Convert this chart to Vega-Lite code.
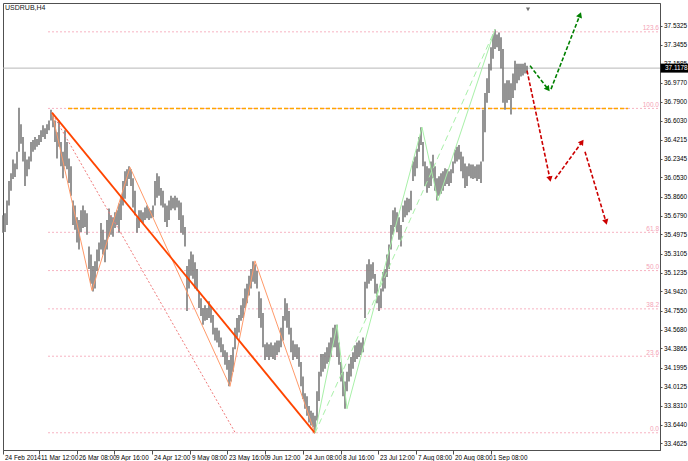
{
  "$schema": "https://vega.github.io/schema/vega-lite/v6.json",
  "width": 657,
  "height": 447,
  "autosize": {"type": "none"},
  "padding": {"left": 3, "top": 3, "right": 28, "bottom": 11},
  "background": "white",
  "title": {"text": "USDRUB,H4", "anchor": "start", "frame": "group", "offset": -8, "dx": 2, "fontSize": 7, "fontWeight": "normal", "font": "Liberation Sans, sans-serif", "color": "#202020"},
  "config": {
    "view": {"stroke": "#505050", "strokeWidth": 1},
    "axis": {"grid": false, "title": null, "labelFont": "Liberation Sans, sans-serif", "labelFontSize": 6.4, "labelColor": "#000000", "domainColor": "#505050", "tickColor": "#505050", "labelOverlap": false, "labelFlush": false, "labelBound": false}
  },
  "datasets": {
    "bars": [
      {"b":0,"h":35.684,"l":35.513},{"b":2,"h":35.703,"l":35.522},{"b":4,"h":35.827,"l":35.589},{"b":6,"h":36.018,"l":35.78},{"b":8,"h":36.094,"l":35.922},{"b":10,"h":36.227,"l":36.037},{"b":12,"h":36.189,"l":36.056},{"b":14,"h":36.303,"l":36.132},{"b":16,"h":36.732,"l":36.303},{"b":18,"h":36.57,"l":36.38},
      {"b":20,"h":36.446,"l":36.208},{"b":22,"h":36.303,"l":35.97},{"b":24,"h":36.227,"l":36.065},{"b":26,"h":36.256,"l":36.132},{"b":28,"h":36.399,"l":36.208},{"b":30,"h":36.418,"l":36.303},{"b":32,"h":36.446,"l":36.322},{"b":34,"h":36.427,"l":36.351},{"b":36,"h":36.465,"l":36.37},{"b":38,"h":36.513,"l":36.399},
      {"b":40,"h":36.561,"l":36.446},{"b":42,"h":36.532,"l":36.427},{"b":44,"h":36.57,"l":36.475},{"b":46,"h":36.608,"l":36.513},{"b":48,"h":36.713,"l":36.608},{"b":50,"h":36.665,"l":36.542},{"b":52,"h":36.608,"l":36.399},{"b":54,"h":36.494,"l":36.237},{"b":56,"h":36.608,"l":36.351},{"b":58,"h":36.399,"l":36.161},
      {"b":60,"h":36.303,"l":36.046},{"b":62,"h":36.513,"l":36.161},{"b":64,"h":36.399,"l":36.132},{"b":66,"h":36.237,"l":35.999},{"b":68,"h":36.161,"l":35.875},{"b":70,"h":35.827,"l":35.589},{"b":72,"h":35.78,"l":35.542},{"b":74,"h":35.665,"l":35.418},{"b":76,"h":35.637,"l":35.351},{"b":78,"h":35.732,"l":35.522},
      {"b":80,"h":35.78,"l":35.561},{"b":82,"h":35.732,"l":35.57},{"b":84,"h":35.703,"l":35.494},{"b":86,"h":35.38,"l":35.161},{"b":88,"h":35.303,"l":35.018},{"b":90,"h":35.189,"l":34.942},{"b":92,"h":35.237,"l":34.97},{"b":94,"h":35.351,"l":35.142},{"b":96,"h":35.418,"l":35.237},{"b":98,"h":35.608,"l":35.351},
      {"b":100,"h":35.542,"l":35.303},{"b":102,"h":35.446,"l":35.227},{"b":104,"h":35.637,"l":35.351},{"b":106,"h":35.751,"l":35.475},{"b":108,"h":35.684,"l":35.494},{"b":110,"h":35.665,"l":35.475},{"b":112,"h":35.713,"l":35.561},{"b":114,"h":35.732,"l":35.589},{"b":116,"h":35.799,"l":35.513},{"b":118,"h":35.875,"l":35.637},
      {"b":120,"h":36.018,"l":35.78},{"b":122,"h":36.113,"l":35.846},{"b":124,"h":36.132,"l":35.97},{"b":126,"h":36.161,"l":36.037},{"b":128,"h":36.132,"l":35.97},{"b":130,"h":36.046,"l":35.761},{"b":132,"h":35.922,"l":35.684},{"b":134,"h":35.665,"l":35.513},{"b":136,"h":35.732,"l":35.561},{"b":138,"h":35.732,"l":35.618},
      {"b":140,"h":35.713,"l":35.608},{"b":142,"h":35.761,"l":35.637},{"b":144,"h":35.78,"l":35.656},{"b":146,"h":35.751,"l":35.637},{"b":148,"h":35.732,"l":35.656},{"b":150,"h":35.78,"l":35.665},{"b":152,"h":36.018,"l":35.78},{"b":154,"h":36.094,"l":35.856},{"b":156,"h":36.065,"l":35.875},{"b":158,"h":35.951,"l":35.78},
      {"b":160,"h":35.922,"l":35.761},{"b":162,"h":35.799,"l":35.618},{"b":164,"h":35.78,"l":35.57},{"b":166,"h":35.827,"l":35.637},{"b":168,"h":35.875,"l":35.732},{"b":170,"h":35.856,"l":35.751},{"b":172,"h":35.875,"l":35.732},{"b":174,"h":35.856,"l":35.761},{"b":176,"h":35.827,"l":35.637},{"b":178,"h":35.808,"l":35.513},
      {"b":180,"h":35.684,"l":35.494},{"b":182,"h":35.57,"l":35.38},{"b":184,"h":35.189,"l":34.751},{"b":186,"h":35.256,"l":34.97},{"b":188,"h":35.332,"l":35.094},{"b":190,"h":35.303,"l":35.065},{"b":192,"h":35.227,"l":34.97},{"b":194,"h":35.161,"l":34.951},{"b":196,"h":34.942,"l":34.78},{"b":198,"h":34.875,"l":34.703},
      {"b":200,"h":34.78,"l":34.618},{"b":202,"h":34.808,"l":34.656},{"b":204,"h":34.78,"l":34.665},{"b":206,"h":34.846,"l":34.684},{"b":208,"h":34.799,"l":34.637},{"b":210,"h":34.713,"l":34.522},{"b":212,"h":34.589,"l":34.465},{"b":214,"h":34.589,"l":34.446},{"b":216,"h":34.561,"l":34.399},{"b":218,"h":34.494,"l":34.351},
      {"b":220,"h":34.427,"l":34.303},{"b":222,"h":34.37,"l":34.227},{"b":224,"h":34.351,"l":34.18},{"b":226,"h":34.275,"l":34.018},{"b":228,"h":34.322,"l":34.065},{"b":230,"h":34.399,"l":34.161},{"b":232,"h":34.589,"l":34.38},{"b":234,"h":34.684,"l":34.494},{"b":236,"h":34.713,"l":34.542},{"b":238,"h":34.808,"l":34.656},
      {"b":240,"h":34.875,"l":34.684},{"b":242,"h":34.97,"l":34.78},{"b":244,"h":35.018,"l":34.827},{"b":246,"h":35.094,"l":34.903},{"b":248,"h":35.161,"l":34.97},{"b":250,"h":35.237,"l":35.037},{"b":252,"h":35.208,"l":35.018},{"b":254,"h":35.142,"l":34.97},{"b":256,"h":34.942,"l":34.684},{"b":258,"h":34.875,"l":34.589},
      {"b":260,"h":34.732,"l":34.399},{"b":262,"h":34.427,"l":34.275},{"b":264,"h":34.446,"l":34.303},{"b":266,"h":34.427,"l":34.275},{"b":268,"h":34.446,"l":34.303},{"b":270,"h":34.418,"l":34.284},{"b":272,"h":34.446,"l":34.275},{"b":274,"h":34.465,"l":34.322},{"b":276,"h":34.465,"l":34.351},{"b":278,"h":34.589,"l":34.399},
      {"b":280,"h":34.703,"l":34.465},{"b":282,"h":34.875,"l":34.656},{"b":284,"h":34.827,"l":34.589},{"b":286,"h":34.751,"l":34.522},{"b":288,"h":34.589,"l":34.351},{"b":290,"h":34.465,"l":34.275},{"b":292,"h":34.427,"l":34.303},{"b":294,"h":34.427,"l":34.284},{"b":296,"h":34.399,"l":34.208},{"b":298,"h":34.256,"l":34.018},
      {"b":300,"h":34.113,"l":33.894},{"b":302,"h":33.951,"l":33.799},{"b":304,"h":33.922,"l":33.732},{"b":306,"h":33.827,"l":33.665},{"b":308,"h":33.78,"l":33.637},{"b":310,"h":33.761,"l":33.618},{"b":312,"h":33.732,"l":33.57},{"b":314,"h":33.97,"l":33.684},{"b":316,"h":34.161,"l":33.875},{"b":318,"h":34.332,"l":34.113},
      {"b":320,"h":34.332,"l":34.161},{"b":322,"h":34.351,"l":34.189},{"b":324,"h":34.399,"l":34.237},{"b":326,"h":34.446,"l":34.256},{"b":328,"h":34.494,"l":34.303},{"b":330,"h":34.589,"l":34.399},{"b":332,"h":34.618,"l":34.399},{"b":334,"h":34.618,"l":34.303},{"b":336,"h":34.446,"l":34.227},{"b":338,"h":34.256,"l":34.065},
      {"b":340,"h":34.161,"l":33.922},{"b":342,"h":34.065,"l":33.799},{"b":344,"h":34.161,"l":33.97},{"b":346,"h":34.237,"l":34.065},{"b":348,"h":34.303,"l":34.113},{"b":350,"h":34.351,"l":34.189},{"b":352,"h":34.418,"l":34.256},{"b":354,"h":34.446,"l":34.284},{"b":356,"h":34.465,"l":34.303},{"b":358,"h":34.446,"l":34.322},
      {"b":360,"h":34.494,"l":34.351},{"b":362,"h":35.037,"l":34.684},{"b":364,"h":35.208,"l":34.97},{"b":366,"h":35.256,"l":35.018},{"b":368,"h":35.208,"l":35.046},{"b":370,"h":35.227,"l":35.065},{"b":372,"h":35.113,"l":34.922},{"b":374,"h":35.018,"l":34.827},{"b":376,"h":34.903,"l":34.751},{"b":378,"h":34.97,"l":34.78},
      {"b":380,"h":35.132,"l":34.942},{"b":382,"h":35.161,"l":34.97},{"b":384,"h":35.303,"l":35.084},{"b":386,"h":35.399,"l":35.161},{"b":388,"h":35.589,"l":35.351},{"b":390,"h":35.732,"l":35.494},{"b":392,"h":35.761,"l":35.57},{"b":394,"h":35.713,"l":35.522},{"b":396,"h":35.665,"l":35.446},{"b":398,"h":35.589,"l":35.38},
      {"b":400,"h":35.78,"l":35.618},{"b":402,"h":35.827,"l":35.665},{"b":404,"h":35.856,"l":35.684},{"b":406,"h":35.846,"l":35.713},{"b":408,"h":35.922,"l":35.732},{"b":410,"h":36.208,"l":36.018},{"b":412,"h":36.256,"l":36.065},{"b":414,"h":36.332,"l":36.142},{"b":416,"h":36.446,"l":36.303},{"b":418,"h":36.542,"l":36.37},
      {"b":420,"h":36.399,"l":36.161},{"b":422,"h":36.208,"l":35.97},{"b":424,"h":36.161,"l":35.903},{"b":426,"h":36.142,"l":35.951},{"b":428,"h":36.208,"l":35.97},{"b":430,"h":36.275,"l":36.046},{"b":432,"h":36.161,"l":35.922},{"b":434,"h":36.046,"l":35.827},{"b":436,"h":36.065,"l":35.875},{"b":438,"h":36.094,"l":35.894},
      {"b":440,"h":36.113,"l":35.922},{"b":442,"h":36.142,"l":35.97},{"b":444,"h":36.132,"l":35.989},{"b":446,"h":36.113,"l":35.97},{"b":448,"h":36.132,"l":35.999},{"b":450,"h":36.208,"l":36.094},{"b":452,"h":36.322,"l":36.189},{"b":454,"h":36.351,"l":36.208},{"b":456,"h":36.37,"l":36.227},{"b":458,"h":36.303,"l":36.113},
      {"b":460,"h":36.256,"l":36.046},{"b":462,"h":36.189,"l":35.951},{"b":464,"h":36.161,"l":35.97},{"b":466,"h":36.189,"l":36.065},{"b":468,"h":36.18,"l":36.046},{"b":470,"h":36.18,"l":36.037},{"b":472,"h":36.161,"l":36.046},{"b":474,"h":36.18,"l":36.018},{"b":476,"h":36.18,"l":36.037},{"b":478,"h":36.208,"l":35.999},
      {"b":480,"h":36.713,"l":36.208},{"b":482,"h":36.875,"l":36.494},{"b":484,"h":37.018,"l":36.78},{"b":486,"h":37.161,"l":36.875},{"b":488,"h":37.322,"l":37.094},{"b":490,"h":37.446,"l":37.208},{"b":492,"h":37.494,"l":37.303},{"b":494,"h":37.446,"l":37.322},{"b":496,"h":37.465,"l":37.284},{"b":498,"h":37.418,"l":37.113},
      {"b":500,"h":37.303,"l":36.78},{"b":502,"h":36.97,"l":36.713},{"b":504,"h":36.999,"l":36.78},{"b":506,"h":36.999,"l":36.808},{"b":508,"h":36.97,"l":36.665},{"b":510,"h":37.065,"l":36.827},{"b":512,"h":37.189,"l":36.903},{"b":514,"h":37.161,"l":36.97},{"b":516,"h":37.161,"l":36.999},{"b":518,"h":37.161,"l":37.037},
      {"b":520,"h":37.161,"l":37.046},{"b":522,"h":37.17,"l":37.065},{"b":524,"h":37.142,"l":37.065}
    ],
    "fib": [
      {"lvl":"123.6","p":37.4712},{"lvl":"100.0","p":36.7254},{"lvl":"61.8","p":35.5183},{"lvl":"50.0","p":35.1454},{"lvl":"38.2","p":34.7725},{"lvl":"23.6","p":34.3112},{"lvl":"0.0","p":33.5654}
    ],
    "level": [{"p":36.7254}],
    "last": [{"p":37.1178,"t":"37.1178"}],
    "trend": [{"b":49,"p":36.684},{"b":312,"p":33.562}],
    "zig": [{"b":49,"p":36.684},{"b":89,"p":34.951},{"b":127,"p":36.151},{"b":227,"p":34.018},{"b":252,"p":35.24},{"b":312,"p":33.562}],
    "dotted": [{"b":50,"p":36.665},{"b":232,"p":33.57}],
    "gzig": [{"b":312,"p":33.562},{"b":334,"p":34.618},{"b":344,"p":33.799},{"b":419,"p":36.542},{"b":435,"p":35.827},{"b":492,"p":37.494}],
    "gdash": [{"b":312,"p":33.562},{"b":492,"p":37.494}],
    "garrows": [{"id":1,"b":527,"p":37.142},{"id":1,"b":545,"p":36.913},{"id":2,"b":548,"p":36.913},{"id":2,"b":577,"p":37.637}],
    "rarrows": [{"id":1,"b":524,"p":37.094},{"id":1,"b":547,"p":36.037},{"id":2,"b":552,"p":36.037},{"id":2,"b":579,"p":36.399},{"id":3,"b":582,"p":36.303},{"id":3,"b":603,"p":35.618}]
  },
  "encoding": {
    "x": {"type": "quantitative", "scale": {"domain": [0, 657], "nice": false, "zero": false},
      "axis": {"orient": "bottom", "values": [0,36,74,111,149,187,224,262,300,338,375,413,450,488],
        "labelExpr": "['24 Feb 2014','11 Mar 12:00','26 Mar 08:00','9 Apr 16:00','24 Apr 12:00','9 May 08:00','23 May 16:00','9 Jun 12:00','24 Jun 08:00','8 Jul 16:00','23 Jul 12:00','7 Aug 08:00','20 Aug 08:00','1 Sep 08:00'][indexof([0,36,74,111,149,187,224,262,300,338,375,413,450,488], datum.value)]",
        "labelAlign": "left", "labelOffset": 1.5, "tickSize": 4, "labelPadding": 0, "labelBaseline": "top"}},
    "y": {"type": "quantitative", "scale": {"domain": [33.4463, 37.7034], "nice": false, "zero": false},
      "axis": {"orient": "right", "values": [33.4625,33.644,33.831,34.0125,34.1995,34.3865,34.568,34.755,34.942,35.1235,35.3105,35.4975,35.679,35.866,36.053,36.2345,36.4215,36.603,36.79,36.977,37.1585,37.3455,37.5325],
        "format": ".4f", "tickSize": 2, "labelPadding": 1.5, "labelBaseline": "middle"}}
  },
  "layer": [
    {"data": {"name": "fib"}, "mark": {"type": "rule", "color": "#F7B3C2", "strokeDash": [2, 2], "strokeWidth": 1},
      "encoding": {"x": {"datum": 45}, "x2": {"datum": 657}, "y": {"field": "p"}}},
    {"data": {"name": "fib"}, "mark": {"type": "text", "color": "#F4A3B6", "fontSize": 6.5, "font": "Liberation Sans, sans-serif", "align": "right", "baseline": "bottom", "dy": -0.5},
      "encoding": {"x": {"datum": 656}, "y": {"field": "p"}, "text": {"field": "lvl"}}},
    {"data": {"name": "last"}, "mark": {"type": "rule", "color": "#B8B8B8", "strokeWidth": 1},
      "encoding": {"x": {"datum": 0}, "x2": {"datum": 657}, "y": {"field": "p"}}},
    {"data": {"name": "level"}, "mark": {"type": "rule", "color": "#FFA500", "strokeDash": [4, 2], "strokeWidth": 1.5},
      "encoding": {"x": {"datum": 65}, "x2": {"datum": 625}, "y": {"field": "p"}}},
    {"data": {"name": "bars"}, "mark": {"type": "rule", "color": "#7a7a7a", "strokeWidth": 1.6},
      "encoding": {"x": {"field": "b"}, "y": {"field": "l"}, "y2": {"field": "h"}}},
    {"data": {"name": "dotted"}, "mark": {"type": "line", "color": "#F07A7A", "strokeDash": [2, 2], "strokeWidth": 1},
      "encoding": {"x": {"field": "b"}, "y": {"field": "p"}}},
    {"data": {"name": "zig"}, "mark": {"type": "line", "color": "#FF9A6A", "strokeWidth": 1},
      "encoding": {"x": {"field": "b"}, "y": {"field": "p"}}},
    {"data": {"name": "trend"}, "mark": {"type": "line", "color": "#FF4500", "strokeWidth": 1.8},
      "encoding": {"x": {"field": "b"}, "y": {"field": "p"}}},
    {"data": {"name": "gdash"}, "mark": {"type": "line", "color": "#A8F0A8", "strokeDash": [6, 4], "strokeWidth": 1},
      "encoding": {"x": {"field": "b"}, "y": {"field": "p"}}},
    {"data": {"name": "gzig"}, "mark": {"type": "line", "color": "#A8F0A8", "strokeWidth": 1},
      "encoding": {"x": {"field": "b"}, "y": {"field": "p"}}},
    {"data": {"name": "garrows"}, "mark": {"type": "line", "color": "#008000", "strokeDash": [4, 2], "strokeWidth": 1.6},
      "encoding": {"x": {"field": "b"}, "y": {"field": "p"}, "detail": {"field": "id"}}},
    {"data": {"name": "rarrows"}, "mark": {"type": "line", "color": "#CC0000", "strokeDash": [4, 2], "strokeWidth": 1.6},
      "encoding": {"x": {"field": "b"}, "y": {"field": "p"}, "detail": {"field": "id"}}},
    {"data": {"values": [{"b": 545, "p": 36.913}]}, "mark": {"type": "point", "shape": "triangle-up", "filled": true, "color": "#008000", "size": 40, "opacity": 1, "angle": 143},
      "encoding": {"x": {"field": "b"}, "y": {"field": "p"}}},
    {"data": {"values": [{"b": 577, "p": 37.637}]}, "mark": {"type": "point", "shape": "triangle-up", "filled": true, "color": "#008000", "size": 40, "opacity": 1, "angle": 21},
      "encoding": {"x": {"field": "b"}, "y": {"field": "p"}}},
    {"data": {"values": [{"b": 547, "p": 36.037}]}, "mark": {"type": "point", "shape": "triangle-up", "filled": true, "color": "#CC0000", "size": 40, "opacity": 1, "angle": 168},
      "encoding": {"x": {"field": "b"}, "y": {"field": "p"}}},
    {"data": {"values": [{"b": 579, "p": 36.399}]}, "mark": {"type": "point", "shape": "triangle-up", "filled": true, "color": "#CC0000", "size": 40, "opacity": 1, "angle": 35},
      "encoding": {"x": {"field": "b"}, "y": {"field": "p"}}},
    {"data": {"values": [{"b": 603, "p": 35.618}]}, "mark": {"type": "point", "shape": "triangle-up", "filled": true, "color": "#CC0000", "size": 40, "opacity": 1, "angle": 164},
      "encoding": {"x": {"field": "b"}, "y": {"field": "p"}}},
    {"data": {"values": [{"b": 525, "p": 37.69}]}, "mark": {"type": "point", "shape": "triangle-down", "filled": true, "color": "#707070", "size": 18, "opacity": 1},
      "encoding": {"x": {"field": "b"}, "y": {"field": "p"}}},
    {"data": {"name": "last"}, "mark": {"type": "bar", "color": "#000000", "size": 9, "clip": false},
      "encoding": {"x": {"datum": 657.5}, "x2": {"datum": 686}, "y": {"field": "p"}}},
    {"data": {"name": "last"}, "mark": {"type": "text", "color": "#FFFFFF", "fontSize": 6.4, "font": "Liberation Sans, sans-serif", "align": "left", "baseline": "middle", "clip": false},
      "encoding": {"x": {"datum": 662}, "y": {"field": "p"}, "text": {"field": "t"}}}
  ]
}
